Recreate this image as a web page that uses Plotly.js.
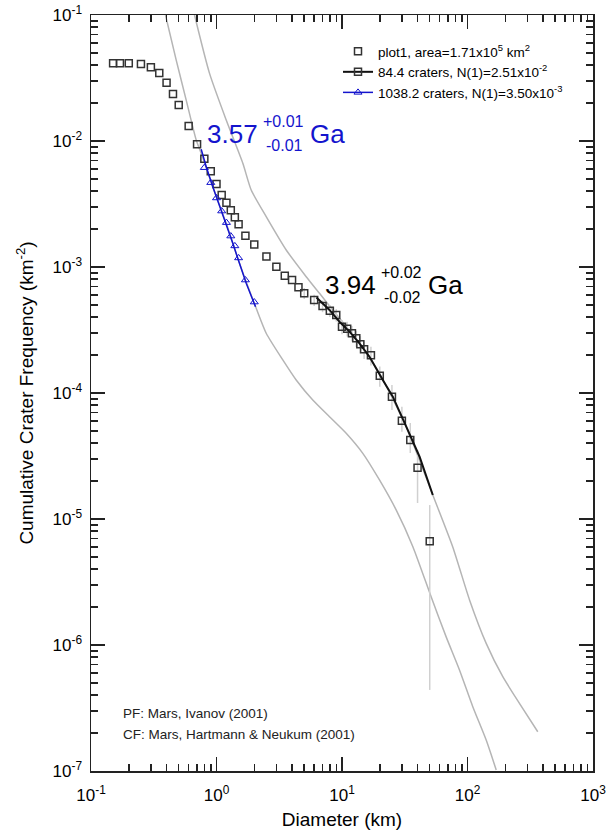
<!DOCTYPE html>
<html>
<head>
<meta charset="utf-8">
<script src="https://cdn.plot.ly/plotly-3.0.1.min.js"></script>
<style>html,body{margin:0;padding:0;background:#fff;}#chart{width:608px;height:832px;}</style>
</head>
<body>
<div id="chart"></div>
<script>
// ---- crater size-frequency data ----
var diameter = [0.15,0.17,0.2,0.25,0.3,0.35,0.4,0.45,0.5,0.6,0.7,0.8,0.9,1.0,1.1,1.2,1.3,1.4,1.5,1.7,2.0,2.5,3.0,3.5,4.0,4.5,5.0,6.0,7.0,8.0,9.0,10,11,12,13,14,15,17,20,25,30,35,40,50];
var cumFreq = [0.0414,0.0414,0.0414,0.0408,0.0385,0.0347,0.0290,0.0236,0.0193,0.01315,0.00942,0.00724,0.00575,0.00456,0.00373,0.00324,0.00282,0.00248,0.00218,0.00177,0.00151,0.00121,0.001005,0.000853,0.000788,0.000690,0.000618,0.000547,0.000490,0.000450,0.000416,0.000336,0.000324,0.000298,0.000272,0.000244,0.000222,0.000199,0.000137,9.35e-5,6.03e-5,4.24e-5,2.55e-5,6.65e-6];
var errHigh = [null,null,null,null,null,null,null,null,null,null,null,null,null,null,null,null,null,null,null,null,null,null,null,null,null,null,6.8e-4,6.03e-4,5.42e-4,4.99e-4,4.63e-4,3.80e-4,3.67e-4,3.40e-4,3.12e-4,2.82e-4,2.58e-4,2.33e-4,1.62e-4,1.156e-4,7.78e-5,5.78e-5,3.53e-5,1.29e-5];
var errLow = [null,null,null,null,null,null,null,null,null,null,null,null,null,null,null,null,null,null,null,null,null,null,null,null,null,null,5.56e-4,4.91e-4,4.38e-4,4.01e-4,3.69e-4,2.92e-4,2.81e-4,2.56e-4,2.32e-4,2.06e-4,1.86e-4,1.65e-4,1.12e-4,7.33e-5,4.93e-5,3.34e-5,1.34e-5,4.4e-7];

// resurfacing-corrected counts (blue triangles)
var triDiameter = [0.8,0.9,1.0,1.1,1.2,1.3,1.4,1.5,1.7,2.0];
var triFreq = [0.00614,0.00467,0.00353,0.00278,0.00225,0.00176,0.00147,0.00118,0.000788,0.000527];

// fitted isochron segments
var fitBlueD = [0.755,0.828,0.934,1.056,1.195,1.349,1.524,1.725,2.046];
var fitBlueN = [0.00859,0.00625,0.00434,0.00310,0.00222,0.00154,0.00107,0.000743,0.000484];
var fitBlackD = [6.26,7.95,9.55,11.47,13.78,16.56,21.14,25.4,32.5,41.5,52.9];
var fitBlackN = [5.73e-4,4.56e-4,3.68e-4,3.07e-4,2.48e-4,1.94e-4,1.27e-4,9.35e-5,5.41e-5,3.12e-5,1.55e-5];

// full isochrons (gray)
var isoHighD = [0.668,0.880,1.195,1.621,1.890,2.489,3.593,5.185,6.618,8.447,13.78,19.9,32.5,52.9,76.3,103.8,140.9,191.1,259.4,363];
var isoHighN = [0.1,0.0344,0.01468,0.00665,0.00408,0.00251,0.001364,0.000838,0.000618,0.000456,0.000248,0.000143,5.41e-5,1.55e-5,6.0e-6,2.28e-6,1.03e-6,5.6e-7,3.44e-7,2.05e-7];
var isoLowD = [0.392,0.4775,0.5735,0.689,0.755,0.934,1.195,1.524,2.072,2.489,3.375,4.315,5.85,7.95,10.80,14.65,19.89,27.0,36.7,51.4,67.6,86.3,110.2,140.9,169.3];
var isoLowN = [0.1,0.0439,0.02113,0.01019,0.00798,0.00434,0.00222,0.00107,0.000470,0.000298,0.000183,0.0001268,8.79e-5,6.48e-5,4.79e-5,3.32e-5,2.04e-5,1.18e-5,6.03e-6,2.4e-6,1.16e-6,6.34e-7,3.24e-7,1.76e-7,1.02e-7];

var xTickVals = [0.1,1,10,100,1000];
var xTickText = ['10<sup>-1</sup>','10<sup>0</sup>','10<sup>1</sup>','10<sup>2</sup>','10<sup>3</sup>'];
var yTickVals = [1e-7,1e-6,1e-5,1e-4,1e-3,1e-2,1e-1];
var yTickText = ['10<sup>-7</sup>','10<sup>-6</sup>','10<sup>-5</sup>','10<sup>-4</sup>','10<sup>-3</sup>','10<sup>-2</sup>','10<sup>-1</sup>'];

var legendNames = ['plot1, area=1.71x10<sup>5</sup> km<sup>2</sup>','84.4 craters, N(1)=2.51x10<sup>-2</sup>','1038.2 craters, N(1)=3.50x10<sup>-3</sup>'];

// ---- build ----
function minorTicks(lo, hi){var v=[];for(var e=lo;e<hi;e++){for(var k=2;k<=9;k++){v.push(k*Math.pow(10,e));}}return v;}
var errPlus = cumFreq.map(function(n,i){return errHigh[i]===null?0:errHigh[i]-n;});
var errMinus = cumFreq.map(function(n,i){return errLow[i]===null?0:n-errLow[i];});

var FONT = 'Liberation Sans, Arial, Helvetica, sans-serif';
var BLUE = 'rgb(20,20,205)';
var GRAY = '#b5b5b5';

var traces = [
  {x: isoLowD, y: isoLowN, mode:'lines', line:{color:GRAY,width:1.5,shape:'spline',smoothing:0.6}, showlegend:false, hoverinfo:'skip'},
  {x: isoHighD, y: isoHighN, mode:'lines', line:{color:GRAY,width:1.5,shape:'spline',smoothing:0.6}, showlegend:false, hoverinfo:'skip'},
  {x: diameter, y: cumFreq, mode:'markers', name: legendNames[0],
   marker:{symbol:'square-open', size:7, color:'#333', line:{width:1.5, color:'#333'}},
   error_y:{type:'data', symmetric:false, array: errPlus, arrayminus: errMinus, color:'#d0d0d0', thickness:1.5, width:0}},
  {x: fitBlackD, y: fitBlackN, mode:'lines', line:{color:'#111', width:2}, showlegend:false},
  {x: fitBlueD, y: fitBlueN, mode:'lines', line:{color:BLUE, width:1.5}, showlegend:false},
  {x: triDiameter, y: triFreq, mode:'markers', showlegend:false,
   marker:{symbol:'triangle-up-open', size:7, color:BLUE, line:{width:1, color:BLUE}}},
  {x:[null], y:[null], mode:'lines+markers', name: legendNames[1],
   line:{color:'#111', width:2}, marker:{symbol:'square-open', size:7, color:'#333', line:{width:1.5,color:'#333'}}},
  {x:[null], y:[null], mode:'lines+markers', name: legendNames[2],
   line:{color:BLUE, width:1.5}, marker:{symbol:'triangle-up-open', size:7, color:BLUE, line:{width:1,color:BLUE}}}
];

function px(x){return (x-91)/502;}
function py(y){return (771-y)/756;}
function ann(text, x, y, size, color){
  return {text:text, xref:'paper', yref:'paper', x:px(x), y:py(y), xanchor:'left', yanchor:'middle',
          showarrow:false, font:{family:FONT, size:size, color:color}, borderpad:0};
}

var axisCommon = {
  type:'log', showgrid:false, zeroline:false, showline:true, linecolor:'#222', linewidth:1.5,
  mirror:'ticks', ticks:'inside', ticklen:14, tickwidth:1.5, tickcolor:'#222',
  tickmode:'array', tickfont:{family:FONT, size:17, color:'#000'}
};

var layout = {
  width:608, height:832,
  margin:{l:91, r:15, t:15, b:61},
  paper_bgcolor:'#fff', plot_bgcolor:'#fff',
  font:{family:FONT, color:'#000'},
  xaxis: Object.assign({}, axisCommon, {
    range:[-1,3], tickvals:xTickVals, ticktext:xTickText, ticklabelstandoff:8,
    minor:{tickmode:'array', tickvals:minorTicks(-1,3), ticks:'inside', ticklen:7, tickwidth:1.5, tickcolor:'#222'},
    title:{text:'Diameter (km)', font:{family:FONT, size:19, color:'#000'}, standoff:9}
  }),
  yaxis: Object.assign({}, axisCommon, {
    range:[-7,-1], tickvals:yTickVals, ticktext:yTickText, ticklabelstandoff:4,
    minor:{tickmode:'array', tickvals:minorTicks(-7,-1), ticks:'inside', ticklen:7, tickwidth:1.5, tickcolor:'#222'},
    title:{text:'Cumulative Crater Frequency (km<sup>-2</sup>)', font:{family:FONT, size:19, color:'#000'}, standoff:14}
  }),
  showlegend:true,
  legend:{x:px(338), y:py(36), xanchor:'left', yanchor:'top', bgcolor:'rgba(0,0,0,0)',
          font:{family:FONT, size:13.5, color:'#000'}, tracegroupgap:0},
  annotations:[
    ann('3.57', 206, 134, 26, BLUE),
    ann('+0.01', 262, 121, 16, BLUE),
    ann('-0.01', 265, 145, 16, BLUE),
    ann('Ga', 309, 134, 26, BLUE),
    ann('3.94', 324, 285, 26, '#000'),
    ann('+0.02', 380, 272, 16, '#000'),
    ann('-0.02', 383, 297, 16, '#000'),
    ann('Ga', 427, 285, 26, '#000'),
    ann('PF: Mars, Ivanov (2001)', 122, 713, 13.5, '#222'),
    ann('CF: Mars, Hartmann &amp; Neukum (2001)', 122, 734, 13.5, '#222')
  ]
};

Plotly.newPlot('chart', traces, layout, {staticPlot:true, displayModeBar:false});
</script>
</body>
</html>
